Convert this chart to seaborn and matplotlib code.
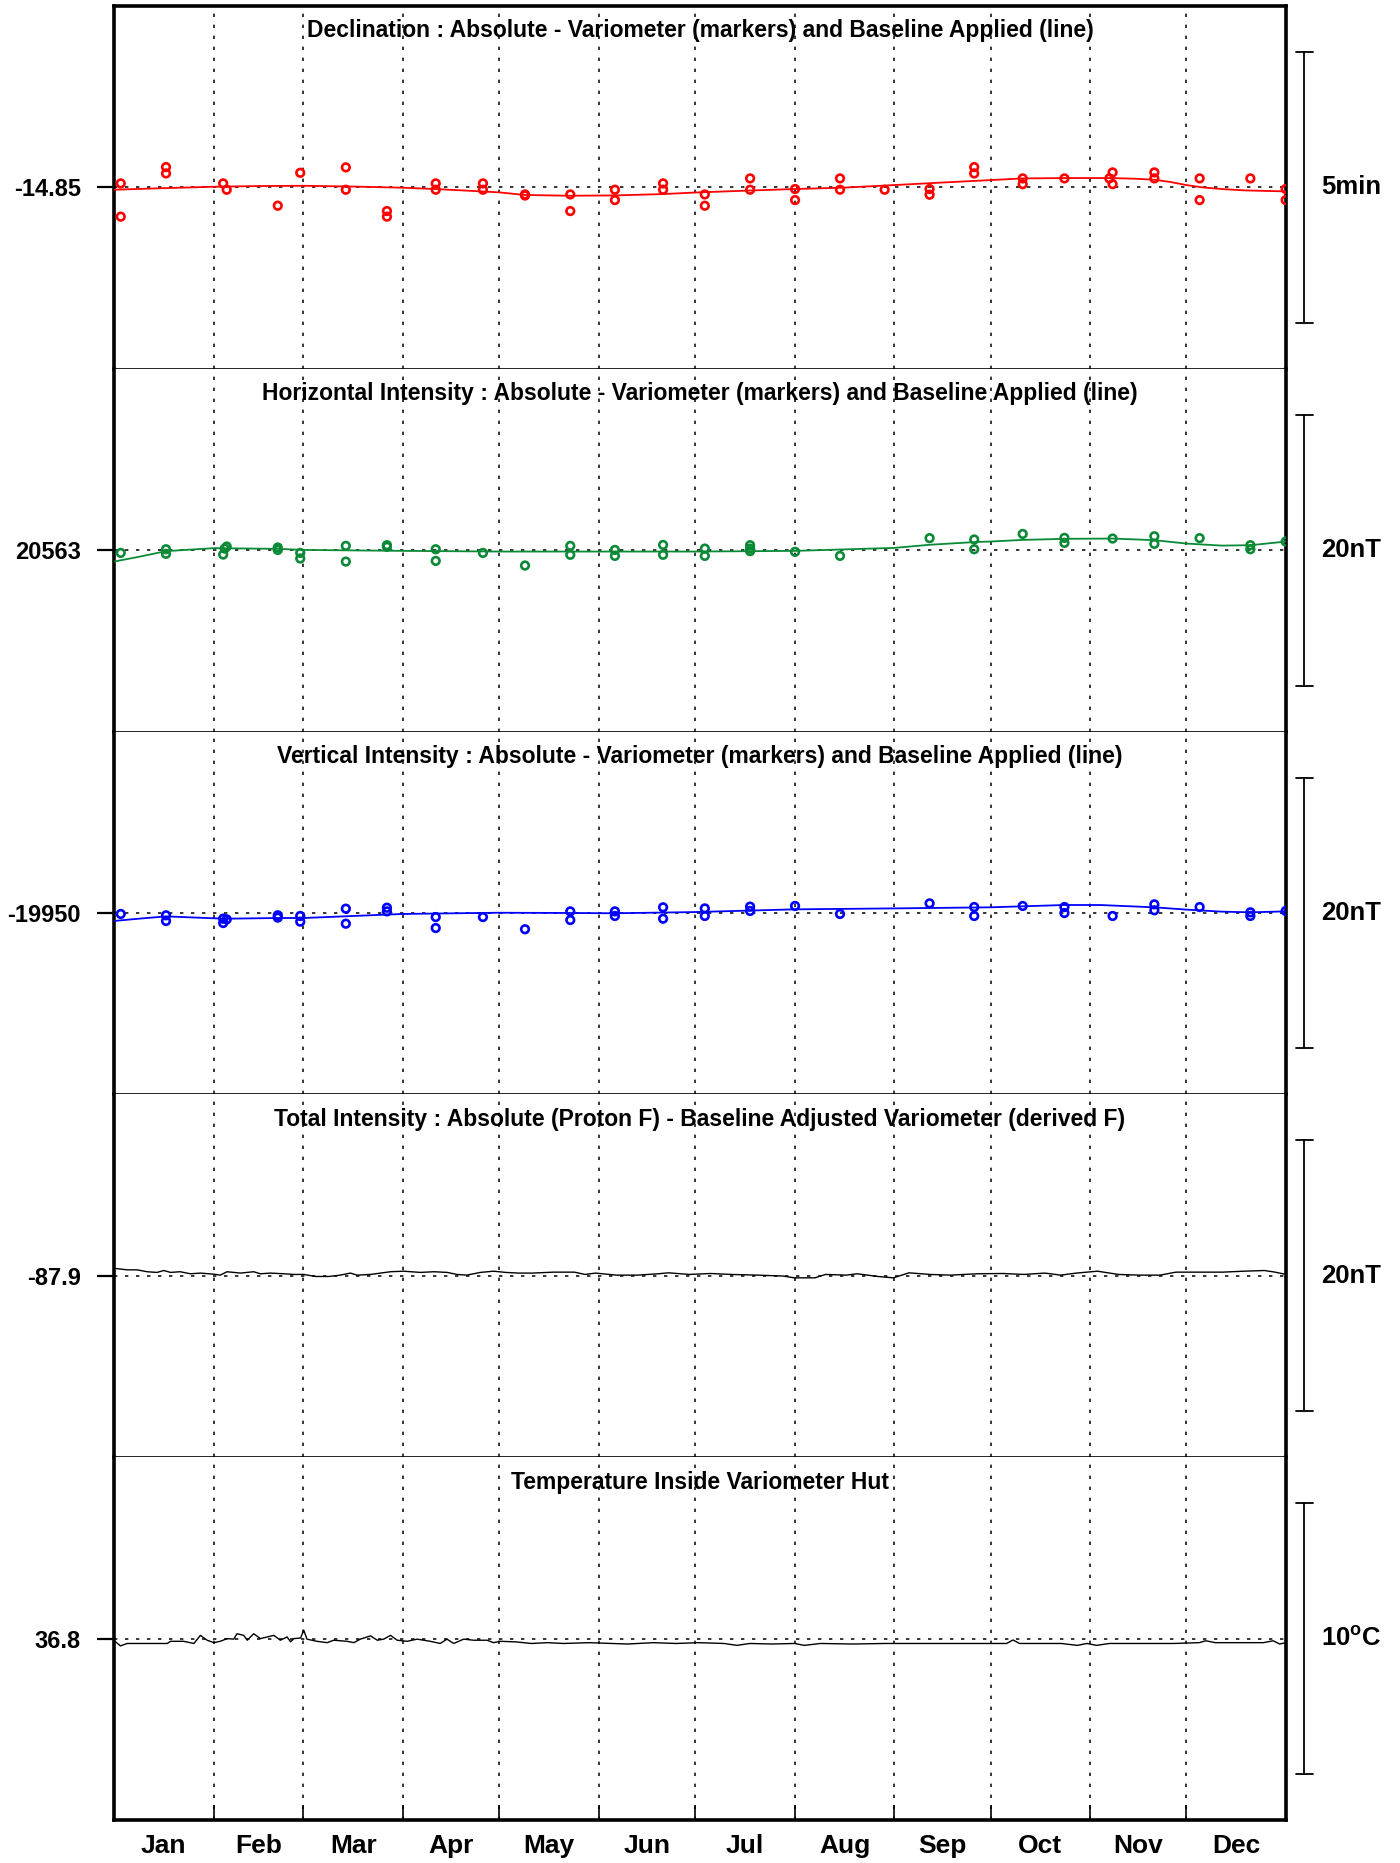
import numpy as np
import pandas as pd
import matplotlib
matplotlib.use("Agg")
import matplotlib.pyplot as plt
import seaborn as sns
from matplotlib.transforms import blended_transform_factory

# ---------------- data ----------------
month_names = ["Jan", "Feb", "Mar", "Apr", "May", "Jun", "Jul", "Aug", "Sep", "Oct", "Nov", "Dec"]
month_starts = [0, 31, 59, 90, 120, 151, 181, 212, 243, 273, 304, 334, 365]

# Declination: baseline value (deg), markers/line as offsets in arc-minutes
d_base = -14.85
d_days = [2.1, 2.1, 16.2, 16.2, 34.0, 35.1, 51.0, 58.0, 72.2, 72.2,
          85.0, 85.0, 100.2, 100.2, 114.9, 114.9, 128.0, 128.0, 142.1, 142.1,
          156.0, 156.0, 171.0, 171.0, 184.0, 184.0, 198.1, 198.1, 212.1, 212.1,
          226.1, 226.1, 240.0, 254.0, 254.0, 267.9, 267.9, 283.0, 283.0, 296.0,
          310.0, 311.0, 311.0, 324.0, 324.0, 338.1, 338.1, 353.9, 364.9, 364.9]
d_vals = [0.074, -0.54, 0.375, 0.258, 0.074, -0.043, -0.338, 0.27, 0.37, -0.043,
          -0.437, -0.54, 0.074, -0.043, 0.074, -0.043, -0.13, -0.15, -0.13, -0.437,
          -0.043, -0.234, 0.074, -0.043, -0.13, -0.338, 0.166, -0.043, -0.03, -0.234,
          0.166, -0.043, -0.043, -0.03, -0.135, 0.375, 0.258, 0.166, 0.06, 0.166,
          0.166, 0.277, 0.06, 0.277, 0.166, 0.166, -0.234, 0.166, -0.03, -0.234]
d_line_days = [0, 15, 31, 45, 59, 75, 90, 100, 110, 120, 128, 142, 156, 171, 182,
               197, 212, 227, 243, 258, 273, 283, 296, 303, 311, 318, 324, 329, 334,
               339, 345, 352, 365]
d_line_vals = [-0.043, -0.015, 0.012, 0.025, 0.03, 0.015, -0.006, -0.03, -0.06, -0.092,
               -0.14, -0.154, -0.148, -0.123, -0.092, -0.06, -0.03, -0.005, 0.043, 0.09,
               0.135, 0.166, 0.172, 0.173, 0.172, 0.16, 0.141, 0.1, 0.043, 0.0,
               -0.03, -0.055, -0.074]

# Horizontal intensity (nT offsets from baseline)
h_base = 20563
h_days = [2.1, 16.2, 16.2, 34.0, 35.1, 34.5, 51.0, 51.0, 58.0, 58.0,
          72.2, 72.2, 85.0, 85.0, 100.2, 100.2, 114.9, 128.0, 142.1, 142.1,
          156.0, 156.0, 171.0, 171.0, 184.0, 184.0, 198.1, 198.1, 198.1, 212.1,
          226.1, 254.0, 267.9, 267.9, 283.0, 296.0, 296.0, 311.0, 324.0, 324.0,
          338.1, 353.9, 353.9, 364.9]
h_vals = [-0.2, 0.07, -0.27, -0.32, 0.27, 0.12, 0.2, 0.02, -0.2, -0.61,
          0.32, -0.84, 0.37, 0.25, 0.07, -0.79, -0.2, -1.13, 0.32, -0.34,
          0.02, -0.42, 0.39, -0.34, 0.12, -0.42, 0.37, 0.12, -0.07, -0.12,
          -0.42, 0.89, 0.79, 0.07, 1.2, 0.91, 0.54, 0.86, 1.03, 0.47,
          0.89, 0.37, 0.07, 0.64]
h_line_days = [0, 7.7, 16.2, 31, 51, 59, 90, 120, 151, 181, 212, 243, 254, 268,
               273, 283, 296, 311, 324, 334, 345, 354, 365]
h_line_vals = [-0.84, -0.49, -0.07, 0.15, 0.1, 0.02, -0.05, -0.1, -0.1, -0.1, -0.05,
               0.17, 0.4, 0.6, 0.64, 0.76, 0.84, 0.86, 0.74, 0.49, 0.34, 0.37, 0.64]

# Vertical intensity (nT offsets)
z_base = -19950
z_days = [2.1, 16.2, 16.2, 34.0, 34.0, 35.1, 51.0, 51.0, 58.0, 58.0,
          72.2, 72.2, 85.0, 85.0, 100.2, 100.2, 114.9, 128.0, 142.1, 142.1,
          156.0, 156.0, 171.0, 171.0, 184.0, 184.0, 198.1, 198.1, 212.1, 226.1,
          254.0, 267.9, 267.9, 283.0, 296.0, 296.0, 311.0, 324.0, 324.0, 338.1,
          353.9, 353.9, 364.9]
z_vals = [-0.07, -0.17, -0.59, -0.42, -0.74, -0.47, -0.17, -0.34, -0.22, -0.64,
          0.32, -0.79, 0.39, 0.12, -0.3, -1.11, -0.3, -1.2, 0.12, -0.52,
          0.12, -0.22, 0.42, -0.42, 0.34, -0.22, 0.47, 0.15, 0.52, -0.07,
          0.71, 0.44, -0.22, 0.52, 0.44, 0.0, -0.22, 0.64, 0.2, 0.44,
          0.05, -0.22, 0.15]
z_line_days = [0, 7.7, 16.2, 31, 35, 51, 59, 90, 120, 142, 156, 181, 212, 243,
               273, 296, 307, 324, 334, 345, 354, 365]
z_line_vals = [-0.59, -0.42, -0.25, -0.39, -0.42, -0.37, -0.37, -0.07, 0.02, 0.0,
               -0.02, 0.07, 0.27, 0.34, 0.42, 0.59, 0.59, 0.42, 0.25, 0.1, 0.05, 0.12]

# Total intensity difference (nT offsets)
f_base = -87.9
f_days = [0.5, 4.1, 7.2, 10.3, 13.4, 15.5, 17.6, 20.6, 23.8, 26.9,
          31.1, 33.1, 35.2, 39.4, 43.5, 45.6, 48.7, 52.9, 56.0, 59.1,
          62.7, 66.9, 70.5, 73.6, 75.7, 79.9, 86.1, 90.2, 95.4, 99.6,
          103.8, 106.8, 109.9, 114.1, 118.2, 122.0, 126.0, 130.4, 136.9, 143.4,
          146.7, 150.0, 156.4, 163.0, 169.5, 172.7, 179.2, 185.7, 192.2, 200.4,
          208.5, 211.8, 218.3, 221.6, 228.1, 231.4, 237.9, 242.7, 247.6, 254.1,
          260.6, 268.8, 276.9, 283.4, 289.9, 294.8, 299.7, 306.3, 312.8, 319.3,
          325.8, 330.7, 338.8, 345.3, 351.8, 358.3, 361.6, 365.0]
f_vals = [0.54, 0.44, 0.44, 0.30, 0.25, 0.39, 0.25, 0.30, 0.15, 0.20,
          0.12, 0.05, 0.30, 0.20, 0.30, 0.15, 0.20, 0.15, 0.10, 0.10,
          -0.05, -0.05, 0.05, 0.20, 0.05, 0.10, 0.30, 0.34, 0.25, 0.30,
          0.25, 0.10, 0.05, 0.25, 0.34, 0.25, 0.20, 0.20, 0.27, 0.27,
          0.10, 0.20, 0.05, 0.05, 0.15, 0.22, 0.10, 0.17, 0.10, 0.05,
          -0.02, -0.15, -0.15, 0.10, 0.05, 0.15, -0.05, -0.15, 0.22, 0.10,
          0.05, 0.15, 0.17, 0.10, 0.20, 0.05, 0.20, 0.34, 0.10, 0.05,
          0.05, 0.27, 0.27, 0.27, 0.34, 0.39, 0.27, 0.10]

# Temperature (deg C offsets from 36.8)
t_base = 36.8
t_days = [0.5, 2.0, 4.1, 16.6, 17.6, 21.7, 24.9, 26.9, 29.0, 31.1,
          33.1, 35.2, 37.3, 38.3, 40.4, 41.5, 43.5, 45.6, 47.7, 49.8,
          51.8, 53.9, 55.0, 56.0, 58.1, 59.1, 60.1, 63.2, 66.4, 68.4,
          72.6, 74.7, 76.7, 79.9, 82.0, 84.0, 86.1, 88.2, 91.3, 94.4,
          98.5, 101.6, 103.7, 105.8, 108.9, 112.0, 116.2, 118.2, 120.3, 125,
          130, 135, 140, 148, 155, 160, 168, 175, 182, 190,
          194, 198, 205, 212, 215, 220, 230, 240, 250, 260,
          270, 278, 280, 282, 295, 300, 303, 306, 310, 320,
          330, 338, 340, 343, 350, 358, 361, 363, 365]
t_vals = [-0.12, -0.27, -0.18, -0.18, -0.10, -0.10, -0.18, 0.12, -0.06, -0.15,
          -0.10, 0.0, -0.02, 0.18, 0.12, -0.06, 0.18, 0.0, 0.06, 0.12,
          -0.06, 0.06, -0.12, 0.0, 0.02, 0.31, -0.02, -0.10, -0.15, -0.06,
          -0.10, -0.15, -0.02, 0.10, -0.06, -0.02, 0.12, -0.06, -0.10, -0.02,
          -0.10, -0.18, -0.02, -0.18, -0.02, -0.06, -0.06, -0.15, -0.10, -0.12,
          -0.18, -0.15, -0.18, -0.15, -0.18, -0.20, -0.15, -0.18, -0.15, -0.18,
          -0.25, -0.18, -0.20, -0.18, -0.25, -0.18, -0.20, -0.18, -0.18, -0.18,
          -0.18, -0.18, -0.05, -0.18, -0.18, -0.25, -0.18, -0.25, -0.18, -0.18,
          -0.18, -0.15, -0.08, -0.15, -0.15, -0.15, -0.08, -0.20, -0.15]

# ---------------- style ----------------
sns.set_theme(style="white")
plt.rcParams["font.family"] = ["Liberation Sans", "DejaVu Sans"]
plt.rcParams["mathtext.fontset"] = "custom"
plt.rcParams["mathtext.rm"] = "Liberation Sans:bold"
plt.rcParams["mathtext.bf"] = "Liberation Sans:bold"

RED = "#ff0000"
GREEN = "#0a8a36"
BLUE = "#0000ff"

panels = [
    dict(title="Declination : Absolute - Variometer (markers) and Baseline Applied (line)",
         base=d_base, scale=5 / 60, unit="5min", label="-14.85", color=RED,
         mx=d_days, my=[d_base + v / 60 for v in d_vals],
         lx=d_line_days, ly=[d_base + v / 60 for v in d_line_vals]),
    dict(title="Horizontal Intensity : Absolute - Variometer (markers) and Baseline Applied (line)",
         base=h_base, scale=20, unit="20nT", label="20563", color=GREEN,
         mx=h_days, my=[h_base + v for v in h_vals],
         lx=h_line_days, ly=[h_base + v for v in h_line_vals]),
    dict(title="Vertical Intensity : Absolute - Variometer (markers) and Baseline Applied (line)",
         base=z_base, scale=20, unit="20nT", label="-19950", color=BLUE,
         mx=z_days, my=[z_base + v for v in z_vals],
         lx=z_line_days, ly=[z_base + v for v in z_line_vals]),
    dict(title="Total Intensity : Absolute (Proton F) - Baseline Adjusted Variometer (derived F)",
         base=f_base, scale=20, unit="20nT", label="-87.9", color="black",
         mx=None, my=None,
         lx=f_days, ly=[f_base + v for v in f_vals]),
    dict(title="Temperature Inside Variometer Hut",
         base=t_base, scale=10, unit=r"10$^{\rm o}$C", label="36.8", color="black",
         mx=None, my=None,
         lx=t_days, ly=[t_base + v for v in t_vals]),
]

W, H = 1400, 1863
fig, axes = plt.subplots(5, 1, figsize=(W / 100, H / 100), dpi=100, sharex=True)
fig.subplots_adjust(left=114 / W, right=1286 / W, top=1 - 6 / H, bottom=1 - 1820 / H, hspace=0)

frac = 363 / 271  # panel height relative to scale bar length
dot = (0, (2.2, 5.0))
n = len(panels)
for i, (ax, p) in enumerate(zip(axes, panels)):
    ax.set_facecolor("white")
    half = p["scale"] * frac / 2
    ax.set_xlim(0, 365)
    ax.set_ylim(p["base"] - half, p["base"] + half)

    for m in month_starts[1:-1]:
        ax.axvline(m, color="black", lw=1.1, ls=dot, zorder=1)
    ax.axhline(p["base"], color="black", lw=1.1, ls=dot, zorder=1)

    lw_line = 1.3 if p["mx"] is not None else 1.0
    sns.lineplot(x=p["lx"], y=p["ly"], ax=ax, color=p["color"], lw=lw_line,
                 estimator=None, sort=True, legend=False, zorder=3)
    if p["mx"] is not None:
        sns.scatterplot(x=p["mx"], y=p["my"], ax=ax, marker="o", s=30, legend=False, zorder=4)
        coll = ax.collections[-1]
        coll.set_facecolor("none")
        coll.set_edgecolor(p["color"])
        coll.set_linewidth(1.9)

    # spines
    for side in ("left", "right"):
        ax.spines[side].set_linewidth(2.6)
        ax.spines[side].set_color("black")
    ax.spines["top"].set_color("black")
    ax.spines["bottom"].set_color("black")
    ax.spines["top"].set_linewidth(2.6 if i == 0 else 0)
    ax.spines["top"].set_visible(i == 0)
    ax.spines["bottom"].set_linewidth(2.6 if i == n - 1 else 1.2)

    # y tick at baseline only
    ax.set_yticks([p["base"]])
    ax.set_yticklabels([p["label"]])
    ax.tick_params(axis="y", which="both", left=True, right=False, direction="out",
                   length=12, width=1.6, pad=12, labelsize=17, colors="black")
    for t in ax.get_yticklabels():
        t.set_fontweight("bold")

    # title
    ax.text(0.5, 1 - 25 / 363, p["title"], transform=ax.transAxes, ha="center",
            va="center", fontsize=16.5, fontweight="bold", color="black")

    # scale bar on the right
    tr = blended_transform_factory(ax.transAxes, ax.transData)
    xb = (1304 - 114) / 1172
    c0, c1 = (1296 - 114) / 1172, (1313 - 114) / 1172
    y0, y1 = p["base"] - p["scale"] / 2, p["base"] + p["scale"] / 2
    ax.plot([xb, xb], [y0, y1], transform=tr, color="black", lw=1.3, clip_on=False)
    ax.plot([c0, c1], [y0, y0], transform=tr, color="black", lw=1.3, clip_on=False)
    ax.plot([c0, c1], [y1, y1], transform=tr, color="black", lw=1.3, clip_on=False)
    ax.text((1321 - 114) / 1172, p["base"], p["unit"], transform=tr, ha="left",
            va="center", fontsize=18.5, fontweight="bold", color="black")

    ax.set_xlabel("")
    ax.set_ylabel("")
    if i < n - 1:
        ax.tick_params(axis="x", which="both", bottom=False, top=False,
                       labelbottom=False)

# x axis: month boundaries as inward ticks, month names centred in months
axb = axes[-1]
axb.set_xticks(month_starts[1:-1])
axb.set_xticklabels([])
mids = [(a + b) / 2 for a, b in zip(month_starts[:-1], month_starts[1:])]
axb.set_xticks(mids, minor=True)
axb.set_xticklabels(month_names, minor=True)
axb.tick_params(axis="x", which="major", bottom=True, direction="in", length=11,
                width=1.2, colors="black")
axb.tick_params(axis="x", which="minor", bottom=True, length=0, pad=10,
                labelsize=19, colors="black")
for t in axb.get_xticklabels(minor=True):
    t.set_fontweight("bold")

fig.savefig("out.png", dpi=100, facecolor="white")
